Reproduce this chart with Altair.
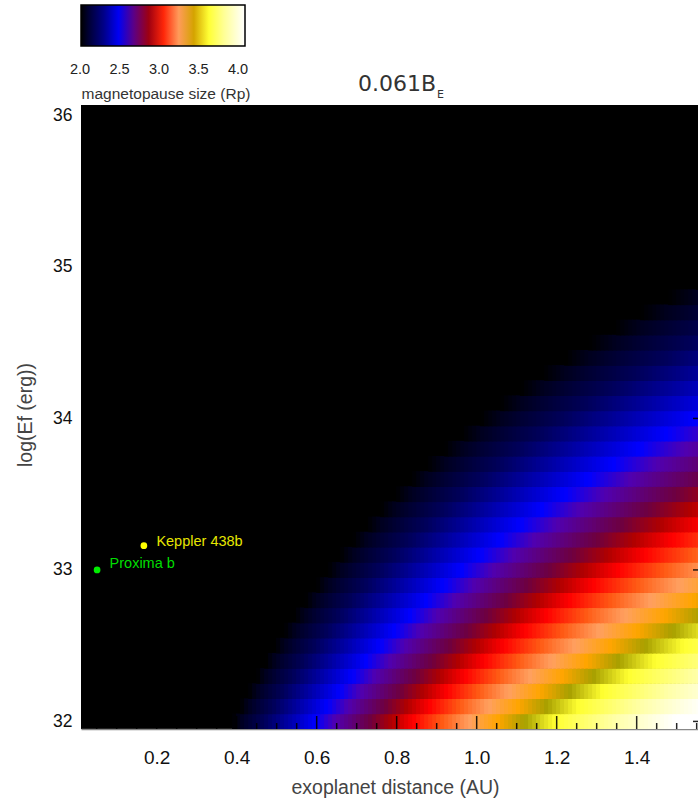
import altair as alt
import numpy as np
import pandas as pd

# ---------------- data ----------------
# image rows (log Ef, erg) and image columns (distance, AU)
log_ef_rows = [round(32.0 + 0.1 * i, 1) for i in range(41)]
distance_cols = [round(0.015 + 0.01 * i, 3) for i in range(155)]
row_half = 0.052
col_half = 0.0065

# magnetopause size scaling: R = R0 * d^p * 10^(-q (logEf-32))
size_at_1au_32 = 3.24
dist_exponent = 0.57
energy_exponent = 0.1175

# colour bar: magnetopause size stops and colours
cb_values = [1.90, 1.95, 2.00, 2.11, 2.23, 2.36, 2.42, 2.53, 2.72, 2.83, 2.94, 3.08, 3.21,
             3.34, 3.46, 3.59, 3.84, 4.08]
cb_colors = ["#000000", "#00001e", "#000032", "#00005a", "#000096", "#0000dc", "#0000ff",
             "#5000b0", "#6e0040", "#b00000", "#ff0000", "#ff5a14", "#ffa060", "#ffa500",
             "#a8a000", "#ffff30", "#ffffa8", "#ffffff"]
cb_labels = [2.0, 2.5, 3.0, 3.5, 4.0]
cb_title = "magnetopause size (Rp)"

# axes
x_labels = [0.2, 0.4, 0.6, 0.8, 1.0, 1.2, 1.4]
x_minor = [0.05, 0.1, 0.15, 0.25, 0.3, 0.35, 0.45, 0.5, 0.55, 0.65, 0.7, 0.75, 0.85, 0.9,
           0.95, 1.05, 1.1, 1.15, 1.25, 1.3, 1.35, 1.45, 1.5, 1.55]
y_labels = [32, 33, 34, 35, 36]
x_domain = [0.0108, 1.5533]
y_domain = [31.95, 36.069]

# planets
planet_names = ["Proxima b", "Keppler 438b"]
planet_dist = [0.051, 0.168]
planet_logef = [33.0, 33.16]
planet_dot = ["#00ee00", "#ffff00"]
planet_text = ["#00dd00", "#e6e600"]
planet_dy = [-5.5, -3.5]

title_main = "0.061B"
title_sub = "E"

# ---------------- build tables ----------------
rows = []
for L in log_ef_rows:
    for d in distance_cols:
        R = size_at_1au_32 * d ** dist_exponent * 10 ** (-energy_exponent * (L - 32.0))
        if R >= 1.9:
            rows.append({"x0": d - col_half, "x1": d + col_half,
                         "y0": L - row_half, "y1": L + row_half, "R": round(R, 3)})
grid = pd.DataFrame(rows)

planets = pd.DataFrame({"name": planet_names, "d": planet_dist, "L": planet_logef})

FONT = "Liberation Sans"
W, H = 617, 624

xs = alt.Scale(domain=x_domain, nice=False, zero=False)
ys = alt.Scale(domain=y_domain, nice=False, zero=False)

x_axis = alt.Axis(values=x_labels, format=".1f", ticks=False, grid=False,
                  domain=True, domainColor="#888888", domainWidth=1.5,
                  labelFont=FONT, labelFontSize=19, labelColor="#111111",
                  labelPadding=19, labelFlush=False,
                  title="exoplanet distance (AU)", titleFont=FONT,
                  titleFontSize=19.5, titleFontWeight="normal",
                  titleColor="#444444", titleX=314, titleY=64,
                  titleAlign="center", titleBaseline="alphabetic")
y_axis = alt.Axis(values=y_labels, format="d", ticks=False, grid=False,
                  domain=False, labelFont=FONT, labelFontSize=17.5,
                  labelColor="#111111", labelPadding=9, labelFlush=False,
                  title="log(Ef (erg))", titleFont=FONT, titleFontSize=19.5,
                  titleFontWeight="normal", titleColor="#444444",
                  titleX=-50, titleY=309.5, titleAngle=-90,
                  titleAlign="center", titleBaseline="alphabetic")

heat = alt.Chart(grid).mark_rect(clip=True, strokeWidth=0).encode(
    x=alt.X("x0:Q", scale=xs, axis=x_axis),
    x2="x1:Q",
    y=alt.Y("y0:Q", scale=ys, axis=y_axis),
    y2="y1:Q",
    color=alt.Color("R:Q",
                    scale=alt.Scale(domain=cb_values, range=cb_colors, clamp=True,
                                    interpolate="rgb"),
                    legend=alt.Legend(orient="none", legendX=0, legendY=-100,
                                      direction="horizontal", gradientLength=164,
                                      gradientThickness=41, gradientStrokeColor="black",
                                      gradientStrokeWidth=1.5, values=[],
                                      title=None, padding=0)),
)

TICK = dict(color="#000000", strokeWidth=1.5, opacity=0.85)
tick_major = alt.Chart(pd.DataFrame({"t": x_labels})).mark_rule(**TICK).encode(
    x=alt.X("t:Q", scale=xs, axis=x_axis), y=alt.value(H), y2=alt.value(H - 13))

tick_minor = alt.Chart(pd.DataFrame({"t": x_minor})).mark_rule(**TICK).encode(
    x=alt.X("t:Q", scale=xs, axis=x_axis), y=alt.value(H), y2=alt.value(H - 6))

tick_right = alt.Chart(pd.DataFrame({"t": y_labels})).mark_rule(**TICK).encode(
    y=alt.Y("t:Q", scale=ys, axis=y_axis), x=alt.value(W - 5), x2=alt.value(W))

layers = [heat, tick_major, tick_minor, tick_right]
for i in range(len(planet_names)):
    base = alt.Chart(planets).transform_filter(alt.datum.name == planet_names[i])
    layers.append(base.mark_circle(size=45, opacity=1, color=planet_dot[i]).encode(
        x=alt.X("d:Q", scale=xs, axis=x_axis), y=alt.Y("L:Q", scale=ys, axis=y_axis)))
    layers.append(base.mark_text(align="left", baseline="middle", dx=12.5,
                                 dy=planet_dy[i], font=FONT, fontSize=14.5,
                                 color=planet_text[i]).encode(
        x=alt.X("d:Q", scale=xs, axis=x_axis), y=alt.Y("L:Q", scale=ys, axis=y_axis),
        text="name:N"))

# colour-bar labels and title (positions follow the bar's own label spacing)
cb_px_per_unit = 79.0
cb_label_left = -1.0
for v in cb_labels:
    layers.append(alt.Chart(pd.DataFrame({"t": [f"{v:.1f}"]})).mark_text(
        align="center", baseline="middle", font=FONT, fontSize=14.5,
        color="#222222").encode(
        x=alt.value(cb_label_left + (v - cb_labels[0]) * cb_px_per_unit),
        y=alt.value(-35.5), text="t:N"))
layers.append(alt.Chart(pd.DataFrame({"t": [cb_title]})).mark_text(
    align="center", baseline="alphabetic", font=FONT, fontSize=15.5,
    color="#333333").encode(x=alt.value(85), y=alt.value(-6.5), text="t:N"))

title1 = alt.Chart(pd.DataFrame({"t": [title_main]})).mark_text(
    align="right", baseline="alphabetic", font="DejaVu Sans", fontSize=22,
    color="#333333").encode(x=alt.value(355), y=alt.value(-14), text="t:N")
title2 = alt.Chart(pd.DataFrame({"t": [title_sub]})).mark_text(
    align="left", baseline="alphabetic", font="DejaVu Sans", fontSize=11,
    color="#333333").encode(x=alt.value(356), y=alt.value(-7), text="t:N")
layers += [title1, title2]

chart = alt.layer(*layers).properties(
    width=W, height=H, autosize="none",
    padding={"left": 81, "top": 105, "right": 0, "bottom": 76},
    background="white",
).configure_view(fill="black", stroke=None)

chart.save("out.html", embed_options={"renderer": "svg", "actions": False})
